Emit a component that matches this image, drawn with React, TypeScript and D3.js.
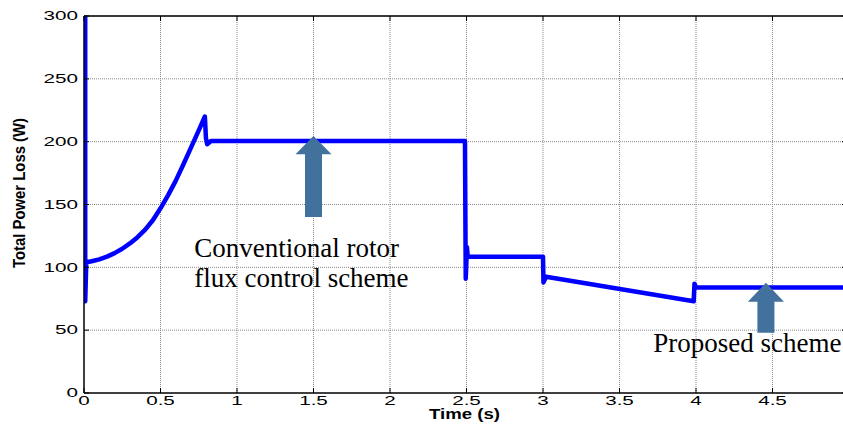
import React from 'react';
import * as d3 from 'd3';

// ---- data ----
const timeS = [0.008, 0.008, 0.015, 0.05, 0.1, 0.15, 0.2, 0.25, 0.3, 0.35, 0.4, 0.45, 0.5, 0.55, 0.6, 0.65, 0.7, 0.75, 0.79, 0.797, 0.805, 0.83, 2.49, 2.495, 2.503, 2.508, 3.0, 3.003, 3.02, 3.985, 3.99, 4.0, 5.0];
const powerLossW = [300, 73, 104, 104.8, 106.3, 108.5, 111.3, 114.8, 119, 124, 130, 137.5, 147, 157.5, 169, 182, 195.5, 209, 220, 203, 198, 200.5, 200.5, 91, 116, 108.5, 108.5, 88, 92.5, 73, 87, 84, 84];

const xTicks = [0, 0.5, 1, 1.5, 2, 2.5, 3, 3.5, 4, 4.5, 5];
const xTickLabels = ['0', '0.5', '1', '1.5', '2', '2.5', '3', '3.5', '4', '4.5', ''];
const yTicks = [0, 50, 100, 150, 200, 250, 300];
const yTickLabels = ['0', '50', '100', '150', '200', '250', '300'];

const xLabel = 'Time (s)';
const yLabel = 'Total Power Loss (W)';

// annotation arrows: [time, tipValue, headBaseValue, shaftBottomValue]
const arrowTime = [1.5, 4.457];
const arrowTip = [204.5, 87.7];
const arrowHeadBase = [190, 72.6];
const arrowShaftBottom = [140, 48];

const noteLines = [
  ['Conventional rotor', 'flux control scheme'],
  ['Proposed scheme'],
];
const noteTime = [0.72, 3.72];
const noteValue = [108.5, 33];

const W = 843;
const H = 426;
const left = 84;
const right = 849;
const top = 16;
const bottom = 393;

export default function App() {
  const x = d3.scaleLinear().domain([0, 5]).range([left, right]);
  const y = d3.scaleLinear().domain([0, 300]).range([bottom, top]);
  const pts: [number, number][] = timeS.map((t, i) => [t, powerLossW[i]]);
  const line = d3
    .line<[number, number]>()
    .x((d) => x(d[0]))
    .y((d) => y(d[1]))
    .curve(d3.curveLinear);

  const tickFont = '"Liberation Sans", Arial, Helvetica, sans-serif';
  const serif = '"Liberation Serif", "Times New Roman", serif';

  return (
    <svg width={W} height={H} style={{ position: 'absolute', left: 0, top: 0, background: '#fff' }}>
      <defs>
        <clipPath id="plot">
          <rect x={left} y={top} width={right - left} height={bottom - top} />
        </clipPath>
      </defs>
      <rect x={0} y={0} width={W} height={H} fill="#fff" />
      {/* grid */}
      <g stroke="#8a8a8a" strokeWidth={1} strokeDasharray="1,1" fill="none">
        {xTicks.slice(1).map((t) => (
          <line key={'gx' + t} x1={x(t)} x2={x(t)} y1={top} y2={bottom} />
        ))}
        {yTicks.slice(1).map((v) => (
          <line key={'gy' + v} x1={left} x2={right} y1={y(v)} y2={y(v)} />
        ))}
      </g>
      {/* data line */}
      <path
        d={line(pts) || ''}
        fill="none"
        stroke="#0000ff"
        strokeWidth={4.5}
        strokeLinejoin="round"
        strokeLinecap="round"
        clipPath="url(#plot)"
      />
      {/* arrows */}
      {arrowTime.map((t, i) => {
        const cx = x(t);
        const hw = 18;
        const sw = 8.5;
        const d = `M${cx},${y(arrowTip[i])} L${cx + hw},${y(arrowHeadBase[i])} L${cx + sw},${y(arrowHeadBase[i])} L${cx + sw},${y(arrowShaftBottom[i])} L${cx - sw},${y(arrowShaftBottom[i])} L${cx - sw},${y(arrowHeadBase[i])} L${cx - hw},${y(arrowHeadBase[i])} Z`;
        return <path key={'ar' + i} d={d} fill="#41719c" />;
      })}
      {/* annotation text */}
      {noteLines.map((lines, i) => (
        <text key={'nt' + i} x={x(noteTime[i])} y={y(noteValue[i])} fontFamily={serif} fontSize={27} fill="#000">
          {lines.map((s, j) => (
            <tspan key={j} x={x(noteTime[i])} dy={j === 0 ? 0 : 30}>
              {s}
            </tspan>
          ))}
        </text>
      ))}
      {/* axes box */}
      <g stroke="#000" fill="none">
        <line x1={left} x2={right} y1={bottom} y2={bottom} strokeWidth={1.5} />
        <line x1={left} x2={left} y1={top} y2={bottom} strokeWidth={1.5} />
        <line x1={left} x2={right} y1={top} y2={top} strokeWidth={1.5} />
        <line x1={right} x2={right} y1={top} y2={bottom} strokeWidth={1.5} />
        {xTicks.map((t) => (
          <g key={'xt' + t}>
            <line x1={x(t)} x2={x(t)} y1={bottom} y2={bottom - 5} />
            <line x1={x(t)} x2={x(t)} y1={top} y2={top + 5} />
          </g>
        ))}
        {yTicks.map((v) => (
          <g key={'yt' + v}>
            <line x1={left} x2={left + 5} y1={y(v)} y2={y(v)} />
            <line x1={right} x2={right - 7} y1={y(v)} y2={y(v)} />
          </g>
        ))}
      </g>
      {/* tick labels */}
      <g fontFamily={tickFont} fontSize={12} fill="#000">
        {xTicks.map((t, i) =>
          xTickLabels[i] ? (
            <text key={'xl' + t} transform={`translate(${x(t)},${bottom + 11.5}) scale(1.72,1)`} textAnchor="middle">
              {xTickLabels[i]}
            </text>
          ) : null
        )}
        {yTicks.map((v, i) => (
          <text key={'yl' + v} transform={`translate(78,${y(v) + 4.3}) scale(1.72,1)`} textAnchor="end">
            {yTickLabels[i]}
          </text>
        ))}
      </g>
      {/* axis labels */}
      <text
        x={464.5}
        y={419}
        fontFamily={tickFont}
        fontWeight="bold"
        fontSize={14}
        textAnchor="middle"
        textLength={71}
        lengthAdjust="spacingAndGlyphs"
      >
        {xLabel}
      </text>
      <text
        transform="translate(25,193) rotate(-90) scale(1,1.4)"
        fontFamily={tickFont}
        fontWeight="bold"
        fontSize={12}
        textAnchor="middle"
        textLength={150}
        lengthAdjust="spacingAndGlyphs"
      >
        {yLabel}
      </text>
    </svg>
  );
}
